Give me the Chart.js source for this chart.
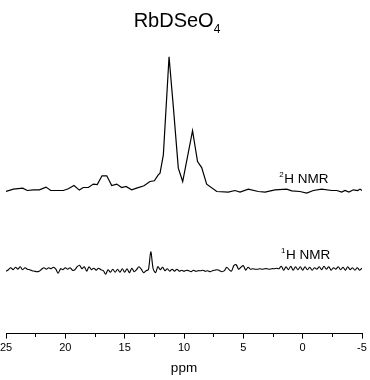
<!DOCTYPE html>
<html lang="en">
<head>
    <meta charset="UTF-8">
    <script src="https://cdn.jsdelivr.net/npm/chart.js"></script>
    <title>RbDSeO4</title>
    <style>
        body { margin: 0; background: #fff; }
        #wrap { position: relative; width: 370px; height: 380px; }
        #title { position: absolute; left: 0; top: 8px; width: 354px; text-align: center;
                 font-family: 'Liberation Sans', Arial, sans-serif; font-size: 20px; line-height: 24px; color: #000; }
        #title sub { font-size: 12px; vertical-align: -6px; line-height: 0; }
    </style>
</head>
<body>
<div id="wrap">
    <canvas id="nmr" width="370" height="380"></canvas>
    <div id="title">RbDSeO<sub>4</sub></div>
</div>
<script>
// 2H NMR trace (ppm, intensity)
var ppm2H = [25.0, 24.38, 23.59, 23.21, 22.70, 22.19, 21.63, 21.23, 20.17, 19.75, 19.27, 18.82, 18.49, 18.06,
    17.64, 17.31, 16.91, 16.51, 16.09, 15.67, 15.25, 14.89, 14.41, 13.99, 13.37, 12.87, 12.50, 12.17, 12.02,
    11.74, 11.26, 10.90, 10.48, 10.11, 9.28, 8.86, 8.51, 8.09, 7.24, 6.27, 5.70, 5.28, 4.58, 3.74, 3.17,
    2.33, 1.35, 0.92, 0.23, -0.34, -0.90, -1.60, -2.45, -2.87, -3.29, -3.57, -3.90, -4.27, -4.64, -4.83, -5.0];
var int2H = [-1.7, 0.7, 1.7, -0.7, 0, 0, 2.7, -0.7, -0.7, 1, 4.3, -0.3, 2.3, 2.3,
    5.7, 5.3, 14, 14, 4.3, 5.7, 2.3, 3.3, 0, 1.7, 4, 8.3, 9, 15, 16.7,
    35, 133.3, 83.3, 21.7, 8.3, 59.3, 28.3, 22.3, 5.7, -1.7, -2.3, -0.7, -2.3, 0.7, -1.7, -2.3,
    0, 0.7, -1, -1.7, -3.3, -0.7, 0.7, -0.7, -0.7, -2.3, -0.7, -2.3, 0, -0.7, 0.7, -0.7];

// 1H NMR trace (ppm, intensity)
var ppm1H = [25.0, 24.8, 24.6, 24.4, 24.2, 24.0, 23.8, 23.6, 23.4, 23.2, 23.0, 22.8, 22.6, 22.4, 22.2, 22.0,
    21.8, 21.6, 21.4, 21.2, 21.0, 20.8, 20.6, 20.4, 20.2, 20.0, 19.8, 19.6, 19.4, 19.2, 19.0, 18.8, 18.6,
    18.4, 18.2, 18.0, 17.8, 17.6, 17.4, 17.2, 17.0, 16.8, 16.6, 16.4, 16.2, 16.0, 15.8, 15.6, 15.4, 15.2,
    15.0, 14.8, 14.6, 14.4, 14.2, 14.0, 13.8, 13.6, 13.4, 13.2, 13.0, 12.8, 12.6, 12.4, 12.2, 12.0, 11.8,
    11.6, 11.4, 11.2, 11.0, 10.8, 10.6, 10.4, 10.2, 10.0, 9.8, 9.6, 9.4, 9.2, 9.0, 8.8, 8.6, 8.4, 8.2, 8.0,
    7.8, 7.6, 7.4, 7.2, 7.0, 6.8, 6.6, 6.4, 6.2, 6.0, 5.8, 5.6, 5.4, 5.2, 5.0, 4.8, 4.6, 4.4, 4.2, 4.0,
    3.8, 3.6, 3.4, 3.2, 3.0, 2.8, 2.6, 2.4, 2.2, 2.0, 1.8, 1.6, 1.4, 1.2, 1.0, 0.8, 0.6, 0.4, 0.2, 0.0,
    -0.2, -0.4, -0.6, -0.8, -1.0, -1.2, -1.4, -1.6, -1.8, -2.0, -2.2, -2.4, -2.6, -2.8, -3.0, -3.2, -3.4,
    -3.6, -3.8, -4.0, -4.2, -4.4, -4.6, -4.8, -5.0];
var int1H = [-1.5, 0, 2, 0, 2.5, 0.5, 3, 0, 2, 0.5, 0, -1, -1.5, -2, -1.5, 0.5,
    2, 0.5, 2, 1, 2.5, 0.5, -3.5, 1, 0, 2, 0.5, 2, -0.5, 0, 3, 4.5, 1,
    3, -1.5, 3, 0, 1.5, -0.5, 1.5, 0, -1, -4.5, 0, -2.5, 0.5, -2.5, 0.5, -2.5, 1,
    -2.5, 1, -3, 1.5, -2, 0, 3, 0.5, -3, -1, 0, 18, 1, -3, 3, 0, 2.5,
    -1, 1, -1.5, 0.5, -1.5, 0.5, -1.5, -0.5, -1.5, -0.5, -1, -2, -0.5, -1.5, -1, -1, -0.5, -1.5, -1,
    -2, -1, -0.5, 0, -1, -2, -1, 2.5, 0, -1.5, 4, 5, 0.5, 2.5, 4, -0.5, 2.5, 0.5, 1, 0.5,
    0.5, 1, 0.5, 1, 1, 0.5, 1, 1, 1.5, 1, 3.5, -0.5, 3, 0, 3.5, -0.5, 3, 0, 3, -0.5,
    3, 0, 2.5, -0.5, 2, 0.5, 3, 0, 3.5, 0.5, 3, -0.5, 2, 0.5, 3, 0, 2.5,
    -0.5, 3, 0, 2, -0.5, 2, -0.5, 1.5];

var offset1H = -80;   // 1H trace drawn below the 2H one
var xTicksMajor = 5;

var lbls = [
    { sup: '2', text: 'H NMR', x: 1.55, y: 7.3 },
    { sup: '1', text: 'H NMR', x: 1.4, y: offset1H + 11 }
];

function toPts(xs, ys, off) {
    var out = [];
    for (var i = 0; i < xs.length; i++) out.push({ x: xs[i], y: ys[i] + off });
    return out;
}

var fam = "'Liberation Sans', Arial, sans-serif";

var labelPlugin = {
    id: 'nmrLabels',
    afterDatasetsDraw: function (chart) {
        var c = chart.ctx, xs = chart.scales.x, ys = chart.scales.y;
        c.save();
        c.fillStyle = '#000';
        c.textBaseline = 'alphabetic';
        lbls.forEach(function (l) {
            var px = xs.getPixelForValue(l.x), py = ys.getPixelForValue(l.y);
            c.font = '8px ' + fam;
            c.textAlign = 'right';
            c.fillText(l.sup, px - 0.5, py - 6);
            c.font = '13.5px ' + fam;
            c.textAlign = 'left';
            c.fillText(l.text, px, py);
        });
        c.restore();
    }
};

new Chart(document.getElementById('nmr'), {
    type: 'line',
    data: {
        datasets: [
            { label: '2H NMR', data: toPts(ppm2H, int2H, 0), borderColor: '#000', borderWidth: 1.2,
              pointRadius: 0, tension: 0, fill: false },
            { label: '1H NMR', data: toPts(ppm1H, int1H, offset1H), borderColor: '#000', borderWidth: 1.1,
              pointRadius: 0, tension: 0.3, fill: false }
        ]
    },
    options: {
        responsive: false,
        animation: false,
        devicePixelRatio: 1,
        layout: { padding: { top: 50, right: 8, left: 0, bottom: 0 } },
        plugins: { legend: { display: false }, tooltip: { enabled: false } },
        scales: {
            x: {
                type: 'linear', reverse: true, min: -5, max: 25,
                afterFit: function (s) { s.paddingLeft = 6; s.paddingRight = 5; },
                grid: {
                    drawOnChartArea: false, drawTicks: true, tickLength: 5, color: '#000', tickColor: '#000',
                    tickBorderDash: function (ctx) {
                        return ctx.tick && ctx.tick.value % xTicksMajor !== 0 ? [3, 10] : [];
                    }
                },
                border: { display: true, color: '#000', width: 1 },
                ticks: {
                    stepSize: 2.5, autoSkip: false, maxRotation: 0, color: '#000', padding: 3,
                    font: { family: fam, size: 11 },
                    callback: function (v) { return v % xTicksMajor === 0 ? String(v) : ''; }
                },
                title: { display: true, text: 'ppm', color: '#000', font: { family: fam, size: 13.5 },
                         padding: { top: 2, bottom: 4 } }
            },
            y: { type: 'linear', display: false, min: -144, max: 140 }
        }
    },
    plugins: [labelPlugin]
});
</script>
</body>
</html>
